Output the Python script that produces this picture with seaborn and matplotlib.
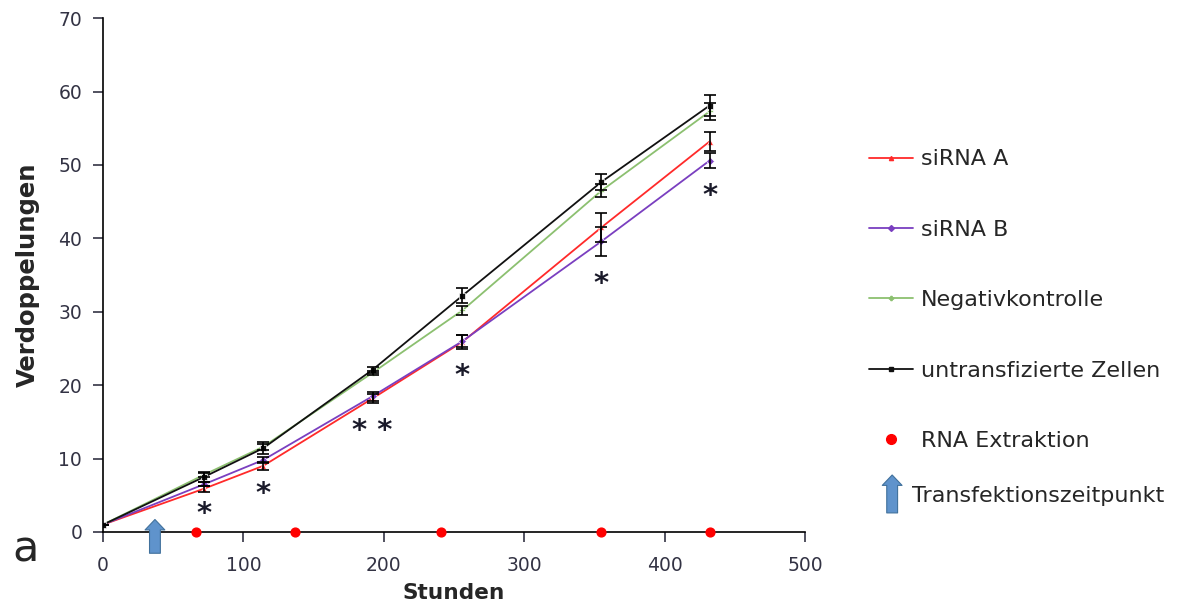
import numpy as np
import pandas as pd
import seaborn as sns
import matplotlib.pyplot as plt
from matplotlib.lines import Line2D

sns.set_theme(style="white")
plt.rcParams['font.family'] = ['DejaVu Sans']

hours = [0, 72, 114, 192, 256, 355, 432]
series_names = ["siRNA A", "siRNA B", "Negativkontrolle", "untransfizierte Zellen"]
sirna_a = [1, 5.9, 9.0, 18.2, 25.9, 41.5, 53.2]
sirna_b = [1, 6.5, 9.8, 18.5, 26.0, 39.6, 50.6]
negativ = [1, 7.8, 11.6, 21.7, 30.2, 46.5, 57.3]
untrans = [1, 7.5, 11.4, 22.1, 32.2, 47.7, 58.1]
err_a = [0, 0.4, 0.6, 0.6, 1.0, 2.0, 1.3]
err_b = [0, 0.3, 0.4, 0.6, 0.8, 2.0, 1.0]
err_neg = [0, 0.3, 0.4, 0.3, 0.6, 0.9, 1.2]
err_un = [0, 0.7, 0.8, 0.4, 1.0, 1.1, 1.4]
rna_extraction = [66, 137, 241, 355, 432]
transfection = 37
sig_x = [72, 114, 192, 256, 355, 432]
sig_y = [2.5, 5.2, 13.7, 21.2, 33.8, 45.8]
sig_labels = ["*", "*", "* *", "*", "*", "*"]

colors = {"siRNA A": "#ff2a2a", "siRNA B": "#7a3fc0",
          "Negativkontrolle": "#8cc070", "untransfizierte Zellen": "#111111"}
markers = {"siRNA A": "^", "siRNA B": "D", "Negativkontrolle": "P",
           "untransfizierte Zellen": "s"}

vals = [sirna_a, sirna_b, negativ, untrans]
errs = [err_a, err_b, err_neg, err_un]
df = pd.DataFrame({
    "Stunden": np.tile(hours, 4),
    "Verdoppelungen": np.concatenate(vals),
    "Serie": np.repeat(series_names, len(hours)),
})

fig = plt.figure(figsize=(11.77, 6.07), dpi=100)
ax = fig.add_axes([0.0875, 0.1236, 0.5965, 0.8464])

sns.lineplot(data=df, x="Stunden", y="Verdoppelungen", hue="Serie", style="Serie",
             hue_order=series_names, style_order=series_names,
             palette=colors, markers=markers, dashes=False, markersize=4,
             linewidth=1.3, ax=ax, legend=False, markeredgewidth=0.5)

for name, v, e in zip(series_names, vals, errs):
    ax.errorbar(hours, v, yerr=e, fmt="none", ecolor="black", elinewidth=1.2,
                capsize=4, capthick=1.2, zorder=5)

ax.scatter(rna_extraction, [0] * len(rna_extraction), s=40, color="#ff0000",
           zorder=6, clip_on=False)

arrow_props = dict(arrowstyle="simple,head_length=0.5,head_width=0.95,tail_width=0.52",
                   mutation_scale=15, fc="#5f93cc", ec="#41719c", lw=0.8,
                   shrinkA=0, shrinkB=0)
ax.annotate("", xy=(transfection, 1.7), xytext=(transfection, -2.9),
            arrowprops=arrow_props, annotation_clip=False)

for x, y, lab in zip(sig_x, sig_y, sig_labels):
    ax.text(x, y, lab, ha="center", va="center", fontsize=21, fontweight="bold",
            color="#1a1a2a")

ax.set_xlim(0, 500)
ax.set_ylim(0, 70)
ax.set_xticks(range(0, 501, 100))
ax.set_yticks(range(0, 71, 10))
ax.set_xlabel("Stunden", fontsize=15.6, fontweight="bold", labelpad=6)
ax.set_ylabel("Verdoppelungen", fontsize=17.5, fontweight="bold", labelpad=13)
ax.tick_params(axis="both", labelsize=13.5, colors="#333344", length=7, width=1.2,
               direction="out", bottom=True, left=True)
ax.tick_params(axis="x", pad=10)
ax.tick_params(axis="y", pad=8)
for s in ["top", "right"]:
    ax.spines[s].set_visible(False)
for s in ["left", "bottom"]:
    ax.spines[s].set_color("black")
    ax.spines[s].set_linewidth(1.2)

handles = [Line2D([0], [0], color=colors[n], marker=markers[n], markersize=3,
                  linewidth=1.3) for n in series_names]
handles.append(Line2D([0], [0], color="none", marker="o", markerfacecolor="#ff0000",
                      markeredgecolor="#ff0000", markersize=7))
labels = series_names + ["RNA Extraktion"]
fig.legend(handles, labels, loc="upper left", bbox_to_anchor=(0.721, 0.787),
           frameon=False, fontsize=16, labelspacing=2.27, handlelength=1.98,
           handletextpad=0.36)

fig.text(0.0215, 0.094, "a", fontsize=31, ha="center", va="center")
ax.annotate("", xy=(0.758, 0.2175), xytext=(0.758, 0.155), xycoords="figure fraction",
            arrowprops=arrow_props, annotation_clip=False)
fig.text(0.775, 0.183, "Transfektionszeitpunkt", fontsize=16, ha="left", va="center")

fig.savefig("out.png", dpi=100)
